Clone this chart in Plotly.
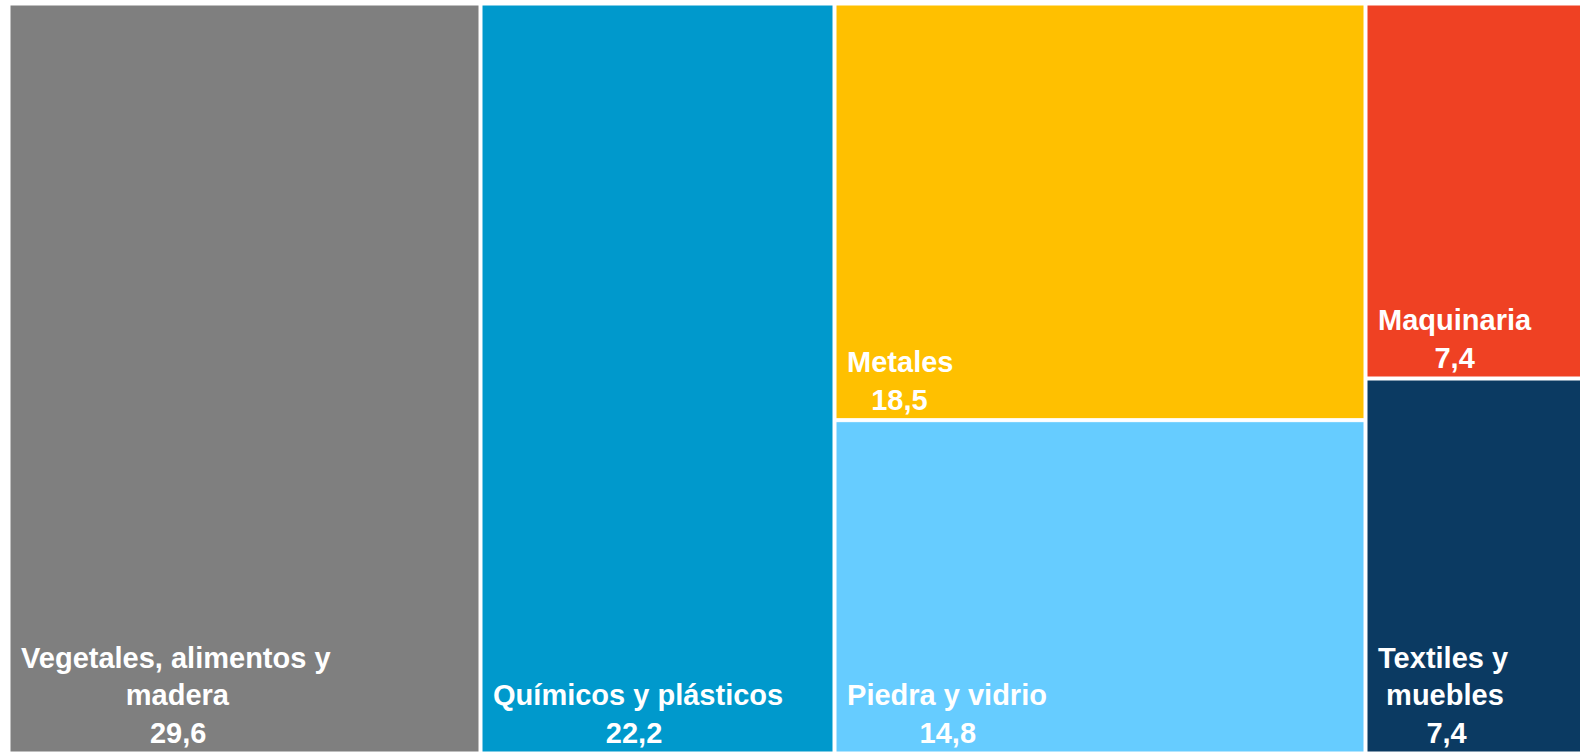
import plotly.graph_objects as go

# Data
categories = ["Vegetales, alimentos y<br>madera", "Químicos y plásticos", "Metales",
              "Piedra y vidrio", "Maquinaria", "Textiles y<br>muebles"]
values = [29.6, 22.2, 18.5, 14.8, 7.4, 7.4]
columns = ["c1", "c2", "c3", "c3", "c4", "c4"]
colors = ["#7F7F7F", "#0099CC", "#FFC000", "#66CCFF", "#EF4123", "#0B3A62"]

NB = "\u00a0"
FONT_SIZE = 29

# approximate Arial/Liberation Sans Bold advance widths (per 1000 em) for centering lines
W = {" ": 278, NB: 278, ",": 278, "a": 556, "b": 611, "c": 556, "d": 611, "e": 556, "g": 611,
     "i": 278, "l": 278, "m": 889, "n": 611, "o": 611, "p": 611, "q": 611, "r": 389, "s": 556,
     "t": 333, "u": 611, "v": 556, "x": 556, "y": 556, "í": 278, "á": 556, "M": 833, "P": 667,
     "Q": 778, "T": 611, "V": 667}


def width(s):
    return sum(W.get(ch, 556) for ch in s)


def centered_block(lines):
    maxw = max(width(l) for l in lines)
    out = []
    for l in lines:
        n = int(round((maxw - width(l)) / 2 / 278))
        out.append(NB + NB * n + l)
    return "<br>".join(out)


nums = [f"{v:.1f}".replace(".", ",") for v in values]
leaf_text = [centered_block(c.split("<br>") + [n]) for c, n in zip(categories, nums)]

group_ids = ["c1", "c2", "c3", "c4"]
group_vals = [sum(v for v, c in zip(values, columns) if c == g) for g in group_ids]

ids = group_ids + [f"leaf{i}" for i in range(len(categories))]
labels = [""] * len(group_ids) + categories
parents = [""] * len(group_ids) + columns
vals = group_vals + values
node_colors = ["#FFFFFF"] * len(group_ids) + colors
texts = [""] * len(group_ids) + leaf_text
templates = [""] * len(group_ids) + ["%{text}"] * len(categories)

fig = go.Figure(go.Treemap(
    ids=ids,
    labels=labels,
    parents=parents,
    values=vals,
    branchvalues="total",
    sort=False,
    text=texts,
    texttemplate=templates,
    textposition="bottom left",
    textfont=dict(family="Liberation Sans, Arial, sans-serif", size=FONT_SIZE,
                  color="white", weight="bold"),
    marker=dict(colors=node_colors, line=dict(width=1, color="white"),
                pad=dict(t=0, l=0, r=0, b=0)),
    tiling=dict(packing="slice-dice", pad=3),
    pathbar=dict(visible=False),
    hoverinfo="skip",
))

# The reference image crops the right edge of the treemap, so the figure is a bit wider
fig.update_layout(
    width=1600, height=752,
    margin=dict(l=10, t=5, r=0, b=0),
    paper_bgcolor="white",
    plot_bgcolor="white",
)

fig.write_html("out.html", config={"displayModeBar": False},
               post_script="document.body.style.margin='0';document.body.style.overflow='hidden';")
